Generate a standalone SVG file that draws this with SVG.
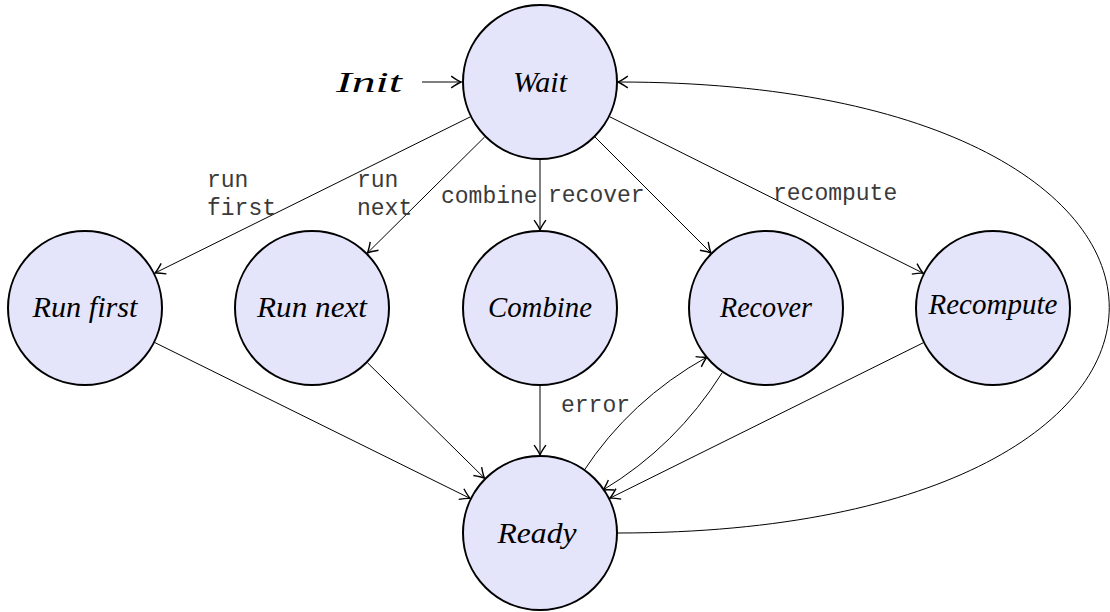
<svg xmlns="http://www.w3.org/2000/svg" width="1110" height="612" viewBox="0 0 1110 612">
<style>
.node circle{fill:#e4e4fa;stroke:#000;stroke-width:2}
.node text{font-family:"Liberation Serif",serif;font-style:italic;font-size:29px;text-anchor:middle;fill:#000}
.edge{fill:none;stroke:#000;stroke-width:1;marker-end:url(#arr)}
.lbl{font-family:"Liberation Mono",monospace;font-size:23px;fill:#3a3a3a}
</style>
<defs>
<marker id="arr" markerUnits="userSpaceOnUse" markerWidth="14" markerHeight="14" viewBox="-8 -5 10 10" refX="0" refY="0" orient="auto">
<path d="M-7,-4.2 Q-2.5,-1 0,0 Q-2.5,1 -7,4.2" fill="none" stroke="#000" stroke-width="1"/>
</marker>
</defs>
<rect width="1110" height="612" fill="#fff"/>
<g id="connectors">
<path class="edge" d="M422,82 L461,82"/>
<path class="edge" d="M470,117 L155,273"/>
<path class="edge" d="M484.6,137 L367.4,253"/>
<path class="edge" d="M540,160 L540,230"/>
<path class="edge" d="M595,137 L711,253"/>
<path class="edge" d="M609.8,116.8 L923.2,273.2"/>
<path class="edge" d="M154.9,342.6 L470.1,498.4"/>
<path class="edge" d="M367.5,362.8 L484.5,478.2"/>
<path class="edge" d="M540,386 L540,455"/>
<path class="edge" d="M923.2,342.8 L609.8,498.2"/>
<path class="edge" d="M583,472 Q630,400 707,357"/>
<path class="edge" d="M722,373 Q676,446 603,490"/>
<path class="edge" d="M618,533 C1273,533 1273,82 618,82"/>
<text class="lbl" x="207" y="187">run</text>
<text class="lbl" x="207" y="215">first</text>
<text class="lbl" x="357" y="187">run</text>
<text class="lbl" x="357" y="215">next</text>
<text class="lbl" x="441" y="203">combine</text>
<text class="lbl" x="548" y="202">recover</text>
<text class="lbl" x="773" y="200">recompute</text>
<text class="lbl" x="561" y="412">error</text>
</g>
<text x="336" y="92" font-family="Liberation Serif,serif" font-style="italic" font-size="29" textLength="66" lengthAdjust="spacingAndGlyphs">Init</text>
<g id="wait" class="node"><circle cx="540" cy="82" r="77"/><text x="540" y="92" textLength="54" lengthAdjust="spacingAndGlyphs">Wait</text></g>
<g id="runfirst" class="node"><circle cx="85" cy="308" r="77"/><text x="85" y="317" textLength="105" lengthAdjust="spacingAndGlyphs">Run first</text></g>
<g id="runnext" class="node"><circle cx="312" cy="308" r="77"/><text x="312" y="317" textLength="110" lengthAdjust="spacingAndGlyphs">Run next</text></g>
<g id="combine" class="node"><circle cx="540" cy="308" r="77"/><text x="540" y="317" textLength="104" lengthAdjust="spacingAndGlyphs">Combine</text></g>
<g id="recover" class="node"><circle cx="766" cy="308" r="77"/><text x="766" y="317" textLength="92" lengthAdjust="spacingAndGlyphs">Recover</text></g>
<g id="recompute" class="node"><circle cx="993" cy="308" r="77"/><text x="993" y="314" textLength="129" lengthAdjust="spacingAndGlyphs">Recompute</text></g>
<g id="ready" class="node"><circle cx="540" cy="533" r="77"/><text x="537" y="543" textLength="79" lengthAdjust="spacingAndGlyphs">Ready</text></g>
</svg>
